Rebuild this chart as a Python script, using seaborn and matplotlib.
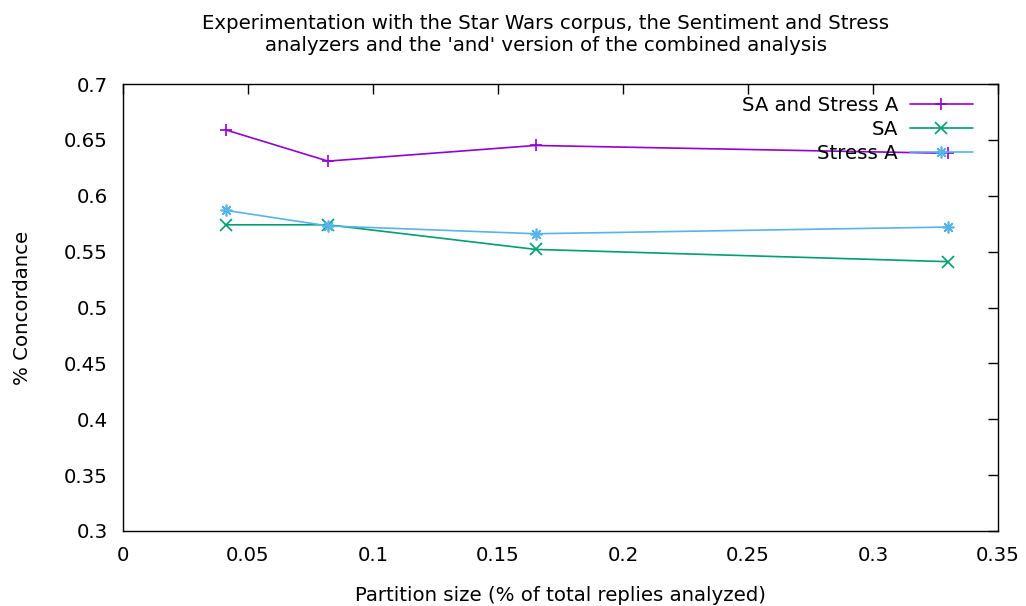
import matplotlib
matplotlib.use("Agg")
import matplotlib.pyplot as plt
import seaborn as sns
import pandas as pd

sns.set_theme(style="white")
plt.rcParams['font.family'] = ['DejaVu Sans']
plt.rcParams['text.color'] = 'black'
plt.rcParams['axes.labelcolor'] = 'black'

partition = [0.041, 0.082, 0.165, 0.33]
sa_and_stress = [0.659, 0.631, 0.645, 0.638]
sa = [0.574, 0.574, 0.552, 0.541]
stress = [0.587, 0.573, 0.566, 0.572]
series_names = ["SA and Stress A", "SA", "Stress A"]
colors = ["#9400d3", "#009e73", "#56b4e9"]
markers = ["+", "x", (8, 2, 0)]

FS = 14.2

fig = plt.figure(figsize=(10.26, 6.06), dpi=100)
ax = fig.add_axes([123/1026, 1-531/606, (998-123)/1026, (531-84)/606])

for name, vals, c, m in zip(series_names, [sa_and_stress, sa, stress], colors, markers):
    df = pd.DataFrame({"x": partition, "y": vals})
    sns.lineplot(data=df, x="x", y="y", ax=ax, color=c, marker=m, markersize=8.5,
                 markeredgewidth=1.2, markeredgecolor=c, linewidth=1.2, label=name)

ax.set_xlim(0, 0.35)
ax.set_ylim(0.3, 0.7)
ax.set_xticks([0, 0.05, 0.1, 0.15, 0.2, 0.25, 0.3, 0.35])
ax.set_xticklabels(["0", "0.05", "0.1", "0.15", "0.2", "0.25", "0.3", "0.35"])
ax.set_yticks([0.3, 0.35, 0.4, 0.45, 0.5, 0.55, 0.6, 0.65, 0.7])
ax.set_yticklabels(["0.3", "0.35", "0.4", "0.45", "0.5", "0.55", "0.6", "0.65", "0.7"])
ax.tick_params(direction="in", length=7, width=1, top=True, right=True,
               labelsize=FS, colors="black", pad=11)
for s in ax.spines.values():
    s.set_color("black")
    s.set_linewidth(1)
ax.set_xlabel("Partition size (% of total replies analyzed)", fontsize=FS, labelpad=15)
ax.set_ylabel("% Concordance", fontsize=FS, labelpad=23)

leg = ax.legend(loc="upper right", frameon=False, markerfirst=False, fontsize=FS,
                handlelength=3.2, handletextpad=0.6, labelspacing=0.25,
                bbox_to_anchor=(0.985, 1.0), borderaxespad=0.2)

fig.text(546/1026, 1-34.5/606,
         "Experimentation with the Star Wars corpus, the Sentiment and Stress\n"
         "analyzers and the 'and' version of the combined analysis",
         ha="center", va="center", fontsize=FS, linespacing=1.25)

fig.savefig("out.png", dpi=100, facecolor="white")
